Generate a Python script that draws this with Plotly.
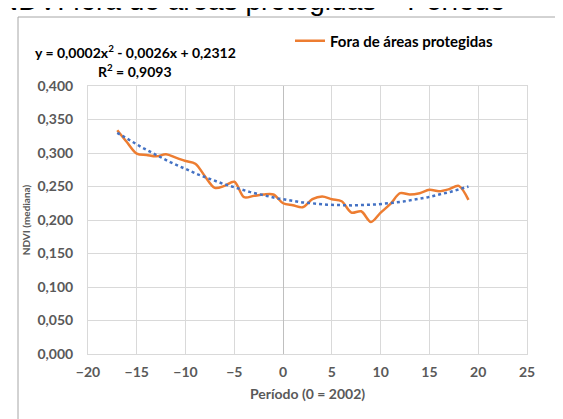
import numpy as np
import plotly.graph_objects as go

# ---- data ----
periodo = list(range(-17, 20))
ndvi_fora = [0.334, 0.316, 0.299, 0.297, 0.295, 0.298, 0.293, 0.288, 0.284,
             0.265, 0.248, 0.251, 0.257, 0.234, 0.236, 0.238, 0.238,
             0.225, 0.222, 0.219, 0.231, 0.235, 0.231, 0.228, 0.211, 0.213,
             0.197, 0.211, 0.224, 0.240, 0.238, 0.240, 0.245, 0.243, 0.246,
             0.251, 0.230]
series_name = "Fora de áreas protegidas"
equation_text = "y = 0,0002x<sup>2</sup> - 0,0026x + 0,2312"
r2_text = "R<sup>2</sup> = 0,9093"
title_text = "NDVI fora de áreas protegidas – Período"
x_title = "Período (0 = 2002)"
y_title = "NDVI (mediana)"

# polynomial trendline (order 2) fitted to the series
coef = np.polyfit(periodo, ndvi_fora, 2)
trend_x = np.linspace(min(periodo), max(periodo), 200)
trend_y = np.polyval(coef, trend_x)

FONT = "Lato, 'Open Sans', sans-serif"
GRAY = "#595959"

fig = go.Figure()
fig.add_trace(go.Scatter(
    x=periodo, y=ndvi_fora, mode="lines", name=series_name,
    line=dict(color="#ED7D31", width=2.5, shape="spline", smoothing=0.9),
))
fig.add_trace(go.Scatter(
    x=trend_x, y=trend_y, mode="lines", showlegend=False,
    line=dict(color="#4472C4", width=2.5, dash="3px,3px"),
))

W, H = 563, 419
L, R, T, B = 80, 44, 78, 73
pw, ph = W - L - R, H - T - B

def px_x(p):
    return (p - L) / pw

def px_y(p):
    return 1 + (T - p) / ph

fig.update_layout(
    width=W, height=H,
    margin=dict(l=L, r=R, t=T, b=B, pad=0),
    paper_bgcolor="white", plot_bgcolor="white",
    separators=",.",
    font=dict(family=FONT, color=GRAY, size=14),
    showlegend=True,
    legend=dict(
        x=px_x(282), y=px_y(33), xanchor="left", yanchor="middle",
        orientation="h", bgcolor="rgba(0,0,0,0)",
        font=dict(family=FONT, size=15, color="#000000", weight="bold"),
        itemwidth=30,
    ),
    xaxis=dict(
        range=[-20, 25], dtick=5, tick0=0,
        showgrid=True, gridcolor="#D9D9D9", gridwidth=1,
        zeroline=True, zerolinecolor="#BFBFBF", zerolinewidth=1,
        showline=True, linecolor="#D9D9D9", linewidth=1, mirror=True,
        ticks="outside", ticklen=5, tickcolor="rgba(0,0,0,0)",
        tickfont=dict(family=FONT, size=14, color=GRAY, weight="bold"),
        title=dict(text=x_title, standoff=10,
                   font=dict(family=FONT, size=14, color=GRAY, weight="bold")),
    ),
    yaxis=dict(
        range=[0, 0.4], dtick=0.05, tick0=0, tickformat=".3f",
        showgrid=True, gridcolor="#D9D9D9", gridwidth=1,
        zeroline=False,
        showline=True, linecolor="#D9D9D9", linewidth=1, mirror=True,
        ticks="outside", ticklen=11, tickcolor="rgba(0,0,0,0)",
        tickfont=dict(family=FONT, size=14, color=GRAY, weight="bold"),
        title=dict(text=y_title, standoff=4,
                   font=dict(family=FONT, size=10, color=GRAY, weight="bold")),
    ),
    annotations=[
        dict(text=equation_text, xref="paper", yref="paper",
             x=px_x(127), y=px_y(44), xanchor="center", yanchor="middle",
             showarrow=False,
             font=dict(family=FONT, size=14, color="#000000", weight="bold")),
        dict(text=r2_text, xref="paper", yref="paper",
             x=px_x(127), y=px_y(62), xanchor="center", yanchor="middle",
             showarrow=False,
             font=dict(family=FONT, size=14, color="#000000", weight="bold")),
        dict(text=title_text, xref="paper", yref="paper",
             x=px_x(-12), y=px_y(-7), xanchor="left", yanchor="middle",
             showarrow=False,
             font=dict(family="'Liberation Sans', Arial, sans-serif", size=28,
                       color="#000000")),
    ],
    shapes=[
        dict(type="line", xref="paper", yref="paper",
             x0=px_x(10), x1=px_x(600), y0=px_y(9), y1=px_y(9),
             line=dict(color="#A6A6A6", width=1)),
        dict(type="line", xref="paper", yref="paper",
             x0=px_x(10), x1=px_x(10), y0=px_y(9), y1=px_y(440),
             line=dict(color="#A6A6A6", width=1)),
    ],
)

fig.write_html("out.html")
